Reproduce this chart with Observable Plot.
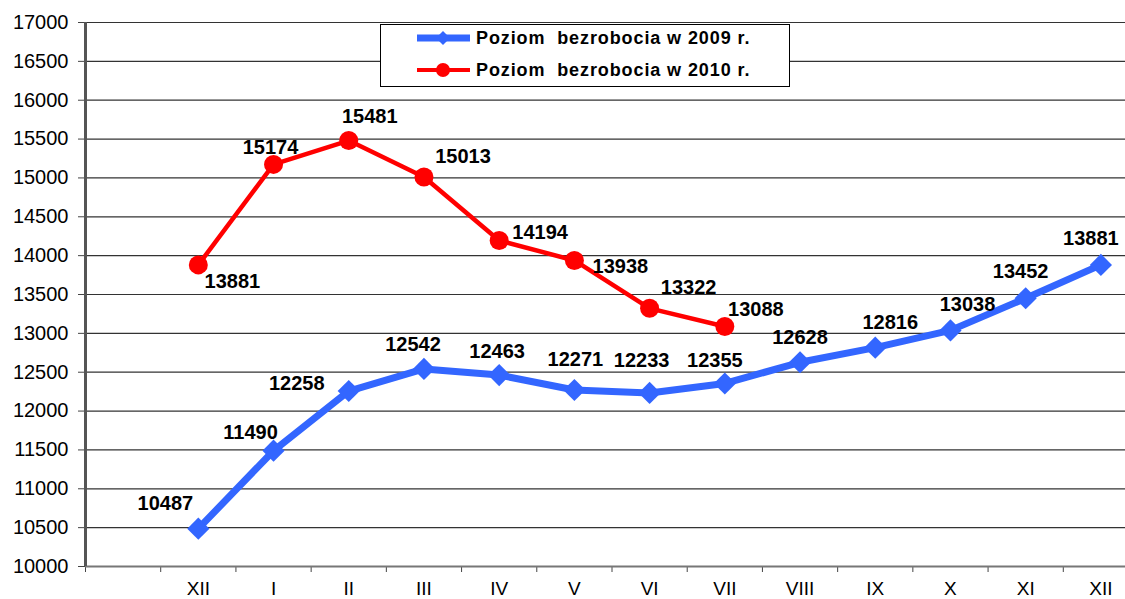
<!DOCTYPE html>
<html>
<head>
<meta charset="utf-8">
<script src="https://cdn.jsdelivr.net/npm/d3@7"></script>
<script src="https://cdn.jsdelivr.net/npm/@observablehq/plot@0.6"></script>
<style>
  html, body { margin: 0; padding: 0; background: white; overflow: hidden; width: 1125px; height: 599px; }
  #wrap { position: relative; width: 1125px; height: 599px; overflow: hidden; }
  #legend { position: absolute; left: 380px; top: 24px; width: 410px; height: 63px; box-sizing: border-box;
    border: 1px solid #000; background: white; font-family: "Liberation Sans", Arial, sans-serif; font-weight: bold; font-size: 18px; letter-spacing: 0.9px; }
  .row { position: absolute; left: 36px; height: 20px; display: flex; align-items: center; }
  .row span { margin-left: 6px; white-space: pre; }
</style>
</head>
<body>
<div id="wrap"><div id="legend"></div></div>
<script>
// Data
const categories = ["", "XII", "I", "II", "III", "IV", "V", "VI", "VII", "VIII", "IX", "X", "XI", "XII"];
const values2009 = [10487, 11490, 12258, 12542, 12463, 12271, 12233, 12355, 12628, 12816, 13038, 13452, 13881];
const values2010 = [13881, 15174, 15481, 15013, 14194, 13938, 13322, 13088];
const yTicks = d3.range(10000, 17001, 500);
const seriesNames = ["Poziom  bezrobocia w 2009 r.", "Poziom  bezrobocia w 2010 r."];

// label offsets (layout)
const dx2009 = [-33, -23, -52, -11, -2, 1, -8, -10, 0, 15, 17, -5, -10];
const dy2009 = [-25, -18, -7, -24, -23, -30, -32, -23, -25, -25, -26, -27, -26];
const dx2010 = [34, -3, 21, 39, 41, 46, 39, 31];
const dy2010 = [17, -17, -24, -20, -8, 6, -21, -17];

const blue = "#3366FF", red = "#FF0000";

const d2009 = values2009.map((v, k) => ({x: k + 1.5, y: v}));
const d2010 = values2010.map((v, k) => ({x: k + 1.5, y: v}));

const labelStyle = {fontSize: 20, fontWeight: "bold", fill: "#000"};

const chart = Plot.plot({
  width: 1138,
  height: 599,
  marginLeft: 85,
  marginRight: 0,
  marginTop: 22,
  marginBottom: 33,
  x: {domain: [0, 14]},
  y: {domain: [10000, 17000]},
  style: {fontFamily: "'Liberation Sans', Arial, sans-serif", background: "white", overflow: "visible", maxWidth: "none"},
  marks: [
    Plot.gridY(yTicks, {stroke: "#333", strokeOpacity: 1, strokeWidth: 1.2}),
    Plot.axisY({ticks: yTicks, tickSize: 7, tickPadding: 10, fontSize: 20, tickFormat: d => String(d), label: null, stroke: "#444"}),
    Plot.axisX({ticks: d3.range(15), tickSize: 6, tickFormat: () => "", label: null, stroke: "#444"}),
    Plot.axisX({ticks: d3.range(14).map(i => i + 0.5), tickSize: 0, tickPadding: 15, fontSize: 19,
      tickFormat: v => categories[Math.floor(v)], label: null}),
    Plot.ruleY([10000], {stroke: "#777", strokeWidth: 2}),
    Plot.ruleX([0], {stroke: "#555", strokeWidth: 3}),
    Plot.line(d2009, {x: "x", y: "y", stroke: blue, strokeWidth: 7}),
    Plot.dot(d2009, {x: "x", y: "y", symbol: "diamond2", r: 10, fill: blue, stroke: "none"}),
    Plot.line(d2010, {x: "x", y: "y", stroke: red, strokeWidth: 4.5}),
    Plot.dot(d2010, {x: "x", y: "y", symbol: "circle", r: 9.5, fill: red, stroke: "none"}),
    ...d2009.map((d, k) => Plot.text([d], {x: "x", y: "y", text: p => String(p.y), dx: dx2009[k], dy: dy2009[k], ...labelStyle})),
    ...d2010.map((d, k) => Plot.text([d], {x: "x", y: "y", text: p => String(p.y), dx: dx2010[k], dy: dy2010[k], ...labelStyle}))
  ]
});
const wrap = document.getElementById("wrap");
wrap.insertBefore(chart, wrap.firstChild);

// Legend
const legend = document.getElementById("legend");
const legendItems = [
  {name: seriesNames[0], color: blue, width: 7, symbol: "diamond"},
  {name: seriesNames[1], color: red, width: 4, symbol: "circle"}
];
legendItems.forEach((it, i) => {
  const row = document.createElement("div");
  row.className = "row";
  row.style.top = (3 + i * 32) + "px";
  const sym = it.symbol === "diamond"
    ? `<path d="M26,3 L33,10 L26,17 L19,10 Z" fill="${it.color}"/>`
    : `<circle cx="26" cy="10" r="7" fill="${it.color}"/>`;
  row.innerHTML = `<svg width="53" height="20"><line x1="0" x2="53" y1="10" y2="10" stroke="${it.color}" stroke-width="${it.width}"/>${sym}</svg><span>${it.name}</span>`;
  legend.appendChild(row);
});
</script>
</body>
</html>
